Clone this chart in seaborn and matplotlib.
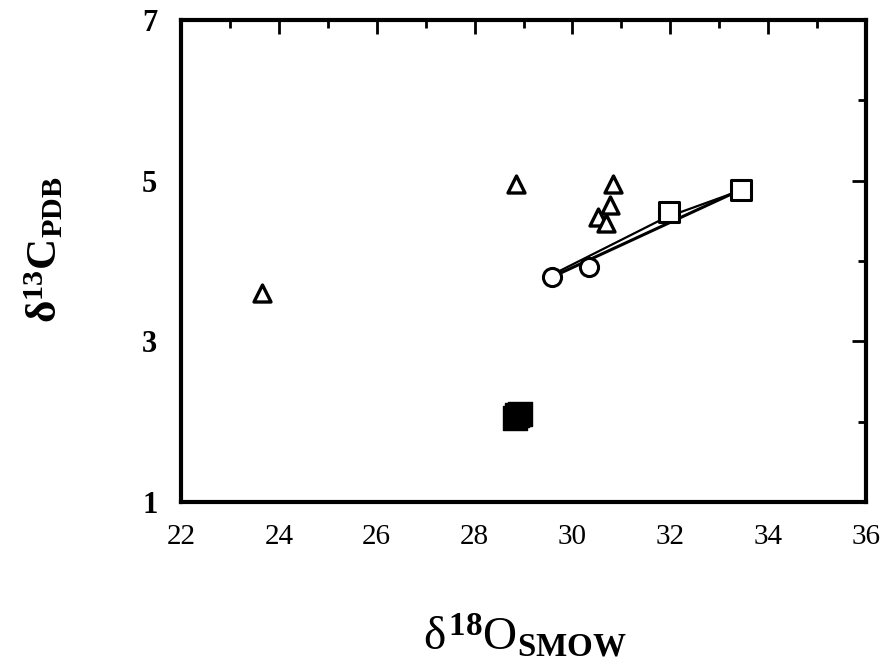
import numpy as np
import pandas as pd
import seaborn as sns
import matplotlib
matplotlib.use("Agg")
import matplotlib.pyplot as plt
from matplotlib.ticker import MultipleLocator

# Isotope data: delta-18O (SMOW) and delta-13C (PDB)
tri_o18 = [23.65, 28.85, 30.82, 30.77, 30.52, 30.69]
tri_c13 = [3.60, 4.96, 4.96, 4.70, 4.55, 4.47]

circ_o18 = [29.58, 30.33]
circ_c13 = [3.80, 3.93]

sq_o18 = [31.98, 33.45]
sq_c13 = [4.61, 4.89]

filled_o18 = [28.82, 28.92, 28.87]
filled_c13 = [2.05, 2.10, 2.08]

# Trend lines (end points)
line1_o18 = [29.58, 33.45]
line1_c13 = [3.80, 4.89]
line2_o18 = [29.62, 31.9, 33.40]
line2_c13 = [3.84, 4.54, 4.87]

xticks = [22, 24, 26, 28, 30, 32, 34, 36]
yticks = [1, 3, 5, 7]

sns.set_theme(style="white")
plt.rcParams["font.family"] = ["Liberation Serif", "DejaVu Serif"]
plt.rcParams["mathtext.fontset"] = "custom"
plt.rcParams["mathtext.rm"] = "Liberation Serif"
plt.rcParams["mathtext.it"] = "Liberation Serif"
plt.rcParams["mathtext.bf"] = "Liberation Serif:bold"
plt.rcParams["text.color"] = "black"
plt.rcParams["xtick.color"] = "black"
plt.rcParams["ytick.color"] = "black"

fig = plt.figure(figsize=(8.82, 6.67), dpi=100)
ax = fig.add_axes([181 / 882, 1 - 502 / 667, (866 - 181) / 882, (502 - 20) / 667])

ax.plot(line1_o18, line1_c13, color="black", lw=2.2, zorder=2)
ax.plot(line2_o18, line2_c13, color="black", lw=1.6, zorder=2)

sns.scatterplot(x=tri_o18, y=tri_c13, marker="^", s=150, facecolor="white",
                edgecolor="black", linewidth=2.4, ax=ax, zorder=3)
sns.scatterplot(x=circ_o18, y=circ_c13, marker="o", s=170, facecolor="white",
                edgecolor="black", linewidth=2.2, ax=ax, zorder=3)
sns.scatterplot(x=sq_o18, y=sq_c13, marker="s", s=190, facecolor="white",
                edgecolor="black", linewidth=2.2, ax=ax, zorder=3)
sns.scatterplot(x=filled_o18, y=filled_c13, marker="s", s=300, color="black",
                edgecolor="black", linewidth=1, ax=ax, zorder=3)

ax.set_xlim(22, 36)
ax.set_ylim(1, 7)
ax.set_xticks(xticks)
ax.set_yticks(yticks)
ax.xaxis.set_minor_locator(MultipleLocator(1))
ax.yaxis.set_minor_locator(MultipleLocator(1))
ax.tick_params(which="both", direction="in", top=True, right=True,
               width=2, color="black", labelcolor="black")
ax.tick_params(which="major", length=10)
ax.tick_params(which="minor", length=6)
ax.tick_params(axis="x", which="major", labelsize=21, pad=16)
ax.tick_params(axis="y", which="major", labelsize=22, pad=17)
for lab in ax.get_yticklabels():
    lab.set_fontweight("bold")
for sp in ax.spines.values():
    sp.set_linewidth(3)
    sp.set_color("black")

fig.text(45 / 882, 1 - 250 / 667, r"$\mathbf{\delta^{13}C_{PDB}}$", rotation=90,
         ha="center", va="center", fontsize=31)
fig.text(525 / 882, 1 - 636 / 667, r"$\delta^{\mathbf{18}}\mathrm{O}_{\mathbf{SMOW}}$",
         ha="center", va="center", fontsize=34)

fig.savefig("out.png", dpi=100)
